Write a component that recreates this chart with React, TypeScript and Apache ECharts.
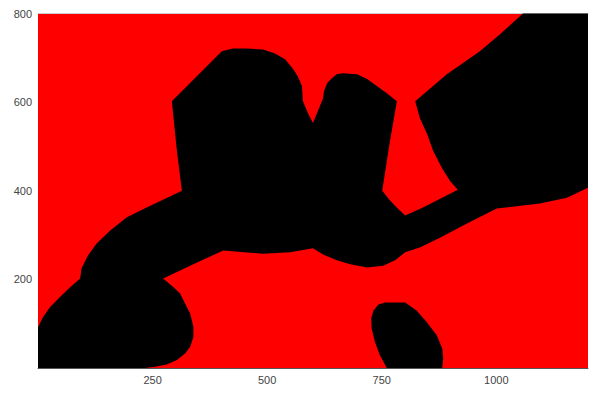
import { useRef, useEffect } from "react";
import * as echarts from "echarts";

// outline of the large black region, [x, y] in data units
const mainRegion: [number, number][] = [
  [0, 0], [0, 92], [11, 115], [26, 137], [48, 160], [70, 182], [92, 202],
  [95, 225], [109, 254], [128, 281], [157, 310], [194, 340], [237, 362],
  [314, 400], [303, 490], [292, 602], [401, 715], [425, 721], [456, 721],
  [491, 719], [517, 710], [539, 697], [556, 676], [567, 658], [576, 636],
  [578, 602], [589, 575], [600, 553], [622, 609], [624, 625], [631, 643],
  [641, 654], [652, 663], [665, 665], [696, 663], [718, 652], [740, 636],
  [761, 620], [783, 602], [768, 512], [751, 400], [768, 378], [785, 360],
  [801, 344], [840, 362], [916, 402], [899, 422], [881, 452], [862, 490],
  [849, 528], [833, 564], [823, 602], [892, 663], [964, 715], [1008, 753],
  [1058, 800], [1200, 800], [1200, 407], [1154, 384], [1095, 371],
  [1001, 360], [936, 326], [877, 294], [833, 272], [801, 261], [779, 243],
  [753, 231], [718, 227], [681, 234], [652, 243], [622, 256], [600, 270],
  [550, 261], [491, 258], [404, 265], [347, 238], [273, 202], [295, 183],
  [310, 168], [321, 145], [332, 123], [339, 93], [339, 70], [332, 48],
  [321, 33], [303, 18], [281, 8], [255, 3], [233, 0],
];

// small black oval near the bottom
const ovalRegion: [number, number][] = [
  [761, 0], [746, 29], [735, 59], [728, 89], [727, 112], [732, 130],
  [742, 143], [757, 148], [801, 148], [826, 130], [848, 104], [870, 74],
  [882, 44], [884, 22], [882, 0],
];

const xTicks = [250, 500, 750, 1000];
const yTicks = [200, 400, 600, 800];

function regionSeries(points: [number, number][]) {
  return {
    type: "custom" as const,
    data: [0],
    silent: true,
    renderItem: (_params: any, api: any) => ({
      type: "polygon",
      shape: { points: points.map((p) => api.coord(p)) },
      style: { fill: "#000000" },
    }),
  };
}

export default function App() {
  const chartRef = useRef<HTMLDivElement>(null);

  useEffect(() => {
    if (!chartRef.current) return;
    const chart = echarts.init(chartRef.current, null, { renderer: "svg" });

    const labelStyle = {
      color: "#444",
      fontSize: 11,
      fontFamily: "Liberation Sans, Arial, sans-serif",
    };

    chart.setOption({
      animation: false,
      grid: {
        left: 30,
        right: 4,
        top: 4,
        bottom: 24,
        show: true,
        backgroundColor: "#ff0000",
        borderWidth: 0,
      },
      xAxis: [
        {
          type: "value",
          min: 0,
          max: 1200,
          interval: 250,
          axisLine: { show: true, lineStyle: { color: "#555", width: 1 } },
          axisTick: { show: false },
          splitLine: { show: false },
          axisLabel: {
            ...labelStyle,
            margin: 6,
            formatter: (v: number) => (xTicks.includes(v) ? String(v) : ""),
          },
        },
        {
          type: "value",
          position: "top",
          min: 0,
          max: 1200,
          axisLine: { show: true, lineStyle: { color: "#ccc", width: 1 } },
          axisTick: { show: false },
          axisLabel: { show: false },
          splitLine: { show: false },
        },
      ],
      yAxis: {
        type: "value",
        min: 0,
        max: 800,
        interval: 200,
        axisLine: { show: false },
        axisTick: { show: false },
        splitLine: { show: false },
        axisLabel: {
          ...labelStyle,
          margin: 6,
          formatter: (v: number) => (yTicks.includes(v) ? String(v) : ""),
        },
      },
      series: [regionSeries(mainRegion), regionSeries(ovalRegion)],
    });

    return () => {
      chart.dispose();
    };
  }, []);

  return <div ref={chartRef} style={{ width: 584, height: 384 }} />;
}
